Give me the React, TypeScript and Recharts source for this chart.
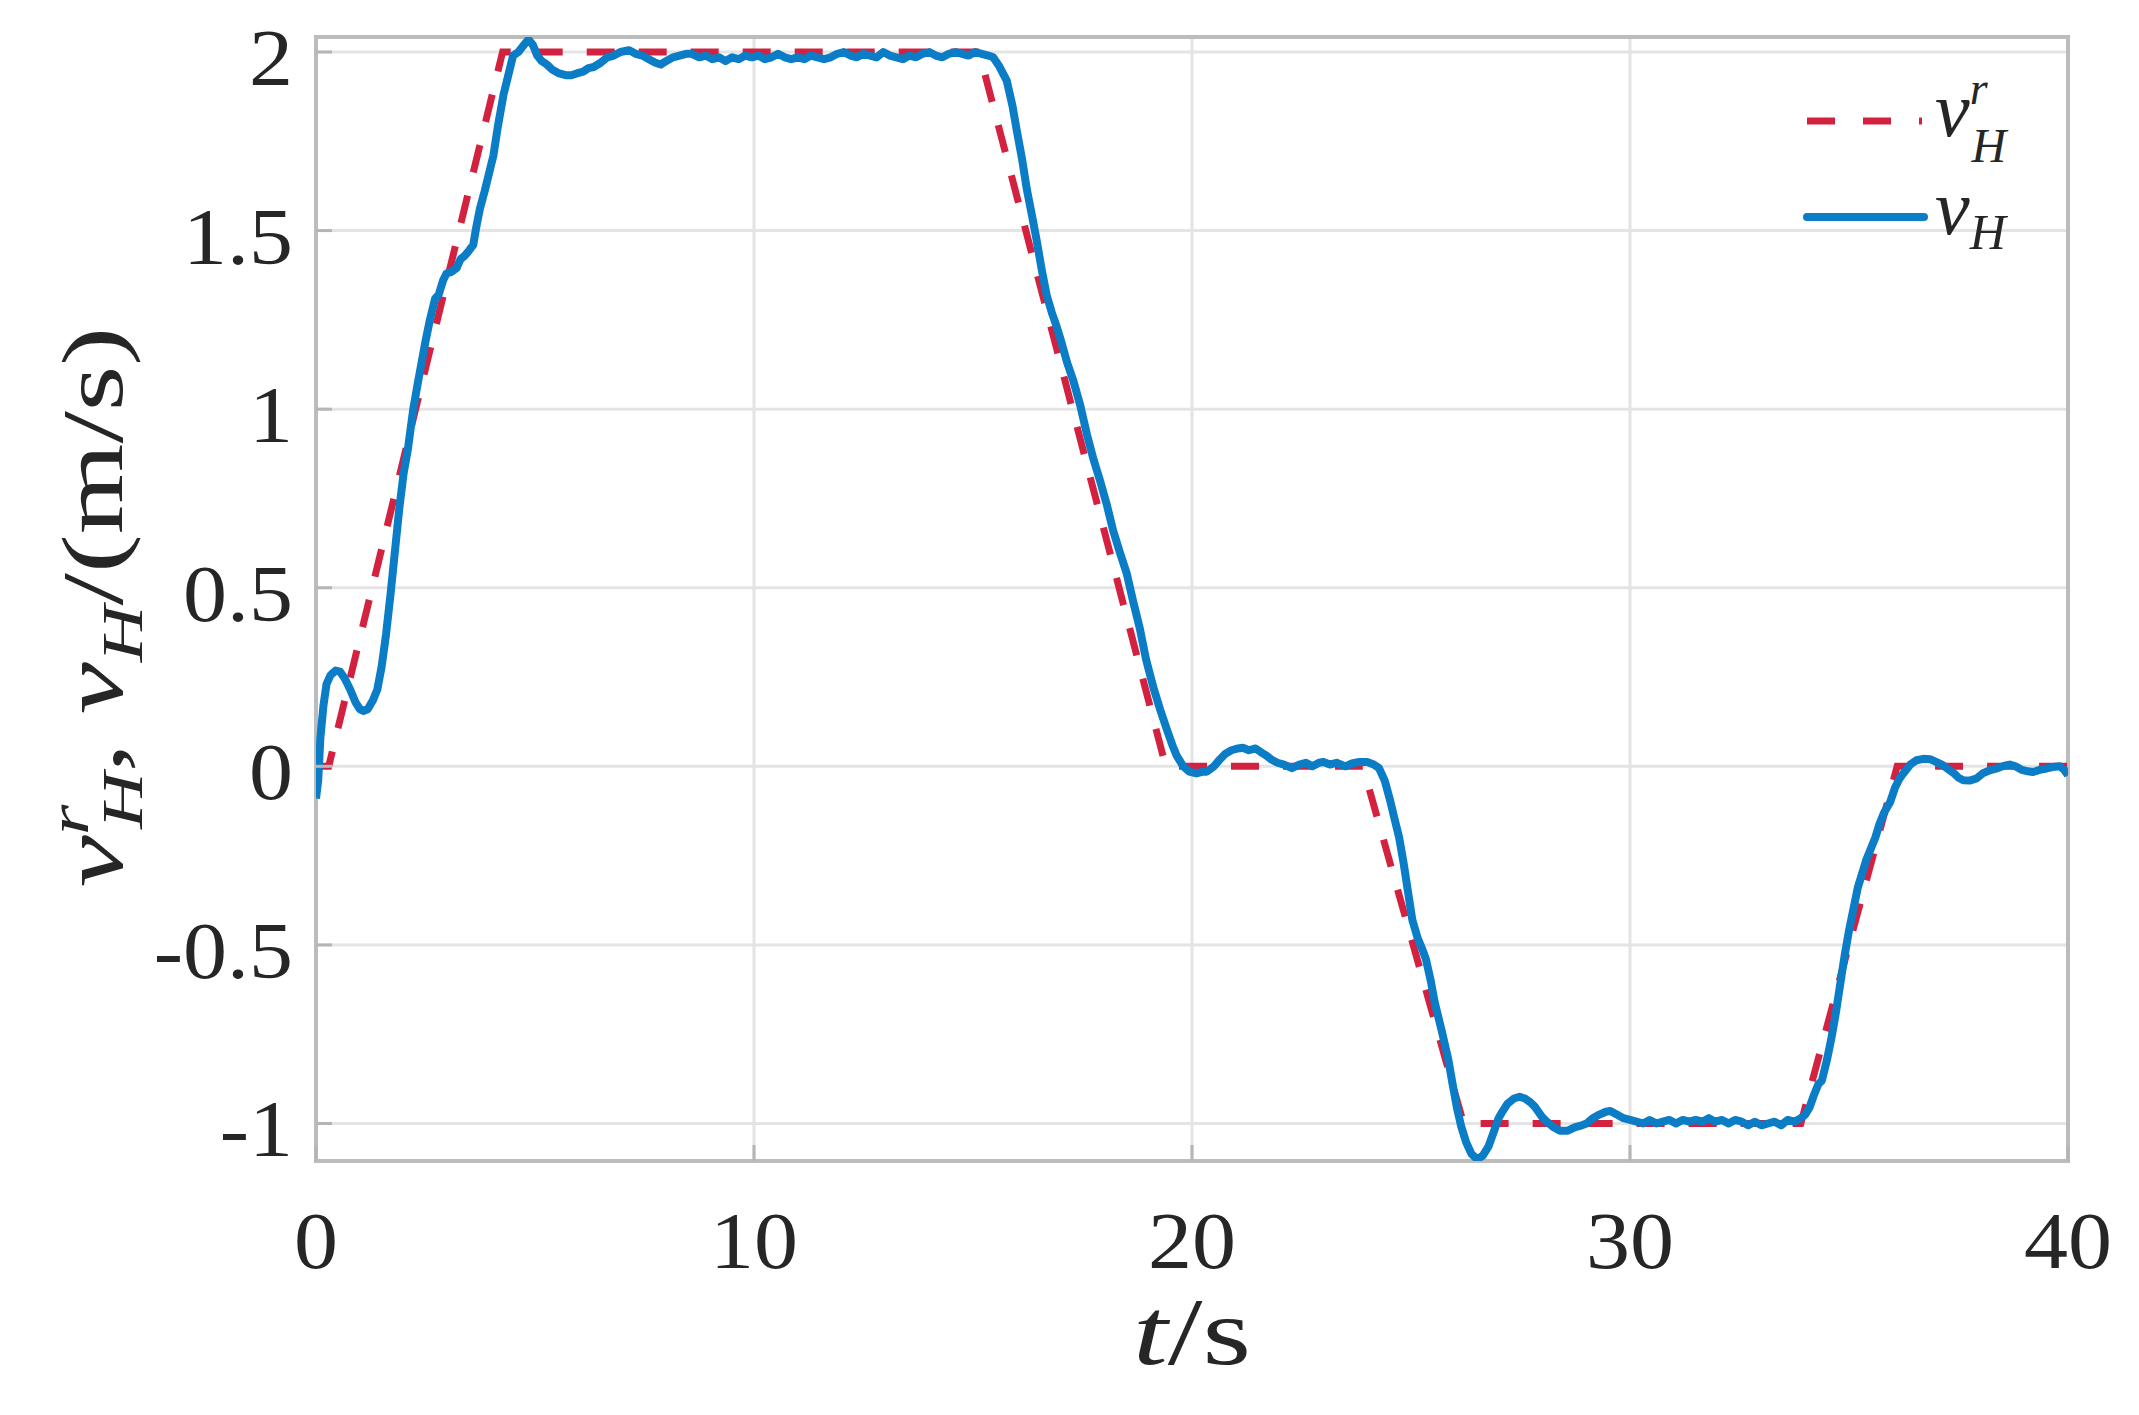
import React from 'react';
import { LineChart, Line, XAxis, YAxis, CartesianGrid, ReferenceArea, Legend } from 'recharts';

// Reference velocity v_H^r (m/s)
const refTime = [0, 0.29, 4.26, 15.14, 19.4, 23.9, 26.2, 33.9, 36.1, 40];
const refVel = [0, 0, 2, 2, 0, 0, -1, -1, 0, 0];

// Measured velocity v_H (m/s)
const measTime = [
  0.0, 0.05, 0.1, 0.17, 0.24, 0.33, 0.45, 0.55, 0.66, 0.78, 0.9, 1.0, 1.08, 1.18, 1.3, 1.4, 1.5, 1.6, 1.7, 1.8,
  1.9, 2.0, 2.1, 2.22, 2.32, 2.41, 2.5, 2.6, 2.72, 2.8, 2.9, 2.98, 3.1, 3.21, 3.3, 3.4, 3.5, 3.59, 3.66, 3.74,
  3.85, 3.95, 4.05, 4.15, 4.28, 4.4, 4.5, 4.62, 4.75, 4.85, 4.95, 5.05, 5.15, 5.27, 5.4, 5.55, 5.7, 5.83, 5.95, 6.1,
  6.22, 6.34, 6.5, 6.65, 6.8, 6.95, 7.15, 7.3, 7.45, 7.6, 7.75, 7.87, 8.0, 8.15, 8.3, 8.45, 8.58, 8.75, 8.9, 9.05,
  9.2, 9.35, 9.5, 9.65, 9.8, 9.95, 10.1, 10.25, 10.4, 10.55, 10.7, 10.85, 11.0, 11.15, 11.3, 11.45, 11.6, 11.75, 11.9, 12.05,
  12.2, 12.35, 12.5, 12.65, 12.8, 12.95, 13.1, 13.25, 13.4, 13.55, 13.7, 13.85, 14.0, 14.15, 14.3, 14.45, 14.6, 14.75, 14.9, 15.05,
  15.2, 15.35, 15.46, 15.6, 15.77, 15.9, 16.0, 16.12, 16.23, 16.35, 16.45, 16.57, 16.68, 16.8, 16.9, 17.0, 17.15, 17.29, 17.45, 17.6,
  17.75, 17.9, 18.05, 18.2, 18.35, 18.51, 18.65, 18.81, 18.95, 19.12, 19.27, 19.42, 19.55, 19.65, 19.8, 19.94, 20.1, 20.25, 20.34, 20.5,
  20.64, 20.75, 20.9, 21.05, 21.16, 21.3, 21.45, 21.57, 21.7, 21.8, 21.95, 22.1, 22.28, 22.45, 22.6, 22.75, 22.9, 23.0, 23.15, 23.3,
  23.5, 23.65, 23.8, 24.0, 24.15, 24.27, 24.4, 24.52, 24.63, 24.73, 24.83, 24.93, 25.03, 25.15, 25.25, 25.34, 25.45, 25.54, 25.7, 25.85,
  25.95, 26.05, 26.15, 26.26, 26.38, 26.51, 26.64, 26.77, 26.9, 27.0, 27.08, 27.2, 27.35, 27.48, 27.6, 27.72, 27.84, 27.98, 28.1, 28.25,
  28.4, 28.58, 28.75, 28.9, 29.01, 29.15, 29.3, 29.45, 29.55, 29.7, 29.85, 30.0, 30.15, 30.3, 30.45, 30.6, 30.75, 30.9, 31.05, 31.2,
  31.35, 31.5, 31.65, 31.8, 31.95, 32.1, 32.25, 32.4, 32.55, 32.7, 32.85, 33.0, 33.15, 33.3, 33.45, 33.6, 33.75, 33.9, 34.0, 34.1,
  34.2, 34.3, 34.38, 34.5, 34.6, 34.7, 34.8, 34.9, 35.0, 35.1, 35.2, 35.3, 35.4, 35.5, 35.6, 35.7, 35.8, 35.94, 36.05, 36.15,
  36.24, 36.4, 36.54, 36.7, 36.85, 37.0, 37.12, 37.23, 37.4, 37.5, 37.61, 37.75, 37.91, 38.05, 38.21, 38.4, 38.55, 38.67, 38.8, 38.95,
  39.08, 39.2, 39.35, 39.51, 39.65, 39.81, 39.9, 40.0,
];
const measVel = [
  -0.09, -0.04, 0.08, 0.17, 0.23, 0.255, 0.268, 0.265, 0.245, 0.215, 0.18, 0.16, 0.155, 0.16, 0.185, 0.215, 0.28, 0.37, 0.48, 0.6,
  0.72, 0.82, 0.89, 1.0, 1.07, 1.13, 1.19, 1.25, 1.31, 1.32, 1.36, 1.38, 1.385, 1.395, 1.42, 1.43, 1.445, 1.46, 1.51, 1.56,
  1.61, 1.66, 1.71, 1.79, 1.88, 1.94, 1.99, 2.0, 2.02, 2.035, 2.02, 1.99, 1.975, 1.965, 1.95, 1.94, 1.935, 1.935, 1.94, 1.945,
  1.955, 1.958, 1.97, 1.985, 1.99, 2.0, 2.005, 1.995, 1.99, 1.98, 1.97, 1.965, 1.975, 1.985, 1.99, 1.995, 1.995, 1.985, 1.99, 1.98,
  1.985, 1.975, 1.985, 1.98, 1.99, 1.985, 1.99, 1.98, 1.985, 1.995, 1.985, 1.98, 1.985, 1.98, 1.99, 1.985, 1.98, 1.985, 1.995, 2.0,
  1.99, 1.985, 1.995, 1.99, 1.985, 2.0, 1.99, 1.985, 1.98, 1.99, 1.985, 1.995, 2.0, 1.99, 1.985, 1.995, 2.0, 1.995, 1.99, 2.0,
  1.995, 1.99, 1.985, 1.96, 1.92, 1.85, 1.78, 1.7, 1.615, 1.54, 1.475, 1.39, 1.32, 1.27, 1.235, 1.195, 1.13, 1.08, 1.01, 0.93,
  0.86, 0.8, 0.735, 0.66, 0.6, 0.54, 0.465, 0.385, 0.3, 0.22, 0.16, 0.105, 0.06, 0.03, 0.0, -0.015, -0.02, -0.015, -0.015, 0.0,
  0.02, 0.034, 0.045, 0.05, 0.052, 0.045, 0.05, 0.04, 0.03, 0.02, 0.01, 0.005, -0.005, 0.005, 0.01, 0.0, 0.01, 0.012, 0.005, 0.01,
  0.0, 0.008, 0.012, 0.012, 0.005, -0.005, -0.04, -0.094, -0.15, -0.2, -0.27, -0.35, -0.43, -0.48, -0.51, -0.54, -0.6, -0.66, -0.74, -0.82,
  -0.89, -0.957, -1.01, -1.053, -1.085, -1.1, -1.09, -1.064, -1.02, -0.985, -0.968, -0.945, -0.93, -0.925, -0.93, -0.94, -0.955, -0.98, -0.995, -1.01,
  -1.02, -1.02, -1.01, -1.005, -1.0, -0.985, -0.975, -0.967, -0.965, -0.975, -0.985, -0.99, -0.995, -1.0, -0.99, -1.0, -0.995, -0.99, -1.0, -0.99,
  -0.995, -0.99, -0.995, -0.985, -0.995, -0.99, -1.0, -0.99, -0.995, -1.005, -0.995, -1.005, -1.0, -0.995, -1.005, -0.99, -0.995, -0.985, -0.975, -0.955,
  -0.92, -0.89, -0.88, -0.82, -0.76, -0.69, -0.61, -0.53, -0.46, -0.4, -0.34, -0.3, -0.26, -0.23, -0.2, -0.16, -0.13, -0.1, -0.06, -0.035,
  -0.02, 0.005, 0.017, 0.021, 0.02, 0.012, 0.005, -0.005, -0.02, -0.032, -0.039, -0.04, -0.034, -0.02, -0.011, -0.005, 0.002, 0.005, 0.0, -0.01,
  -0.014, -0.016, -0.01, -0.006, -0.002, 0.0, -0.008, -0.025,
];

const xTicks = [0, 10, 20, 30, 40];
const yTicks = [-1, -0.5, 0, 0.5, 1, 1.5, 2];
const xDomain = [0, 40];
const yDomain = [-1.105, 2.042];

const refData = refTime.map((t, i) => ({ t, v: refVel[i] }));
const measData = measTime.map((t, i) => ({ t, v: measVel[i] }));

const RED = '#d3223f';
const BLUE = '#0b7cc6';
const FONT = '"Liberation Serif", "Times New Roman", serif';
const TEXT = '#262626';

const XTick = (props: any) => {
  const { x, y, payload } = props;
  return (
    <text transform={`translate(${x},${y + 54}) scale(1.1,1)`} textAnchor="middle" fontFamily={FONT} fontSize={80} fill={TEXT}>
      {String(payload.value)}
    </text>
  );
};

const YTick = (props: any) => {
  const { x, y, payload } = props;
  return (
    <text transform={`translate(${x},${y + 33}) scale(1.1,1)`} textAnchor="end" fontFamily={FONT} fontSize={80} fill={TEXT}>
      {String(payload.value)}
    </text>
  );
};

const EmptyTick = () => <g />;

const XLabel = (props: any) => {
  const vb = props.viewBox || { x: 316, y: 1161, width: 1752, height: 254 };
  const cx = vb.x + vb.width / 2;
  const by = vb.y + 203;
  return (
    <text x={cx} y={by} textAnchor="middle" fontFamily={FONT} fontSize={96} fill={TEXT} textLength={118} lengthAdjust="spacingAndGlyphs">
      <tspan fontStyle="italic">t</tspan>
      <tspan>/s</tspan>
    </text>
  );
};

const YLabel = (props: any) => {
  const vb = props.viewBox || { x: 0, y: 37, width: 316, height: 1124 };
  const cy = vb.y + vb.height / 2 + 8;
  const bx = 122;
  return (
    <g transform={`translate(${bx},${cy}) rotate(-90)`}>
      <text x={0} y={0} textAnchor="middle" fontFamily={FONT} fontSize={86} fill={TEXT} textLength={560} lengthAdjust="spacingAndGlyphs">
        <tspan fontStyle="italic">v</tspan>
        <tspan fontStyle="italic" fontSize={58} dy={-34}>r</tspan>
        <tspan fontStyle="italic" fontSize={58} dx={-18} dy={54}>H</tspan>
        <tspan dy={-20}>, </tspan>
        <tspan fontStyle="italic">v</tspan>
        <tspan fontStyle="italic" fontSize={58} dy={20}>H</tspan>
        <tspan dy={-20}>/(m/s)</tspan>
      </text>
    </g>
  );
};

const LegendBox = () => (
  <svg width={240} height={200} style={{ display: 'block', overflow: 'visible' }}>
    <line x1={0} y1={46} x2={115} y2={46} stroke={RED} strokeWidth={7} strokeDasharray="28 28" />
    <text x={128} y={61} fontFamily={FONT} fontSize={78} fontStyle="italic" fill={TEXT}>
      <tspan>v</tspan>
      <tspan fontSize={46} dy={-32}>r</tspan>
      <tspan fontSize={48} dx={-16} dy={58}>H</tspan>
    </text>
    <line x1={0} y1={142} x2={117} y2={142} stroke={BLUE} strokeWidth={8} strokeLinecap="round" />
    <text x={128} y={159} fontFamily={FONT} fontSize={78} fontStyle="italic" fill={TEXT}>
      <tspan>v</tspan>
      <tspan fontSize={50} dy={15}>H</tspan>
    </text>
  </svg>
);

export default function App() {
  return (
    <div style={{ width: 2139, height: 1415, background: '#ffffff' }}>
      <style>{'body{margin:0;background:#fff;}'}</style>
      <LineChart width={2139} height={1415} margin={{ top: 37, right: 71, bottom: 0, left: 0 }}>
        <CartesianGrid stroke="#e4e4e4" strokeWidth={3} />
        <XAxis
          dataKey="t"
          type="number"
          domain={xDomain}
          ticks={xTicks}
          allowDataOverflow
          height={254}
          axisLine={false}
          tickLine={{ stroke: '#b5b5b5', strokeWidth: 3 }}
          tickSize={-16}
          tickMargin={69}
          tick={(p: any) => <XTick {...p} />}
          label={<XLabel />}
        />
        <XAxis
          xAxisId="top"
          orientation="top"
          type="number"
          domain={xDomain}
          ticks={xTicks}
          allowDataOverflow
          height={0}
          axisLine={false}
          mirror
          tickSize={16}
          tickLine={{ stroke: '#b5b5b5', strokeWidth: 3 }}
          tick={EmptyTick}
        />
        <YAxis
          type="number"
          domain={yDomain}
          ticks={yTicks}
          allowDataOverflow
          width={316}
          axisLine={false}
          tickLine={{ stroke: '#b5b5b5', strokeWidth: 3 }}
          tickSize={-16}
          tickMargin={39}
          tick={(p: any) => <YTick {...p} />}
          label={<YLabel />}
        />
        <YAxis
          yAxisId="right"
          orientation="right"
          type="number"
          domain={yDomain}
          ticks={yTicks}
          allowDataOverflow
          width={0}
          axisLine={false}
          mirror
          tickSize={16}
          tickLine={{ stroke: '#b5b5b5', strokeWidth: 3 }}
          tick={EmptyTick}
        />
        <ReferenceArea x1={0} x2={40} y1={-1.105} y2={2.042} fill="none" stroke="#bcbcbc" strokeWidth={4} ifOverflow="visible" />
        <Line
          data={refData}
          dataKey="v"
          name="ref"
          type="linear"
          stroke={RED}
          strokeWidth={7}
          strokeDasharray="28 24"
          dot={false}
          activeDot={false}
          isAnimationActive={false}
        />
        <Line
          data={measData}
          dataKey="v"
          name="meas"
          type="linear"
          stroke={BLUE}
          strokeWidth={8}
          strokeLinejoin="round"
          dot={false}
          activeDot={false}
          isAnimationActive={false}
        />
        <Legend
          layout="horizontal"
          verticalAlign="middle"
          align="center"
          wrapperStyle={{ left: 1807, top: 75, width: 240, height: 200 }}
          content={() => <LegendBox />}
        />
      </LineChart>
    </div>
  );
}
